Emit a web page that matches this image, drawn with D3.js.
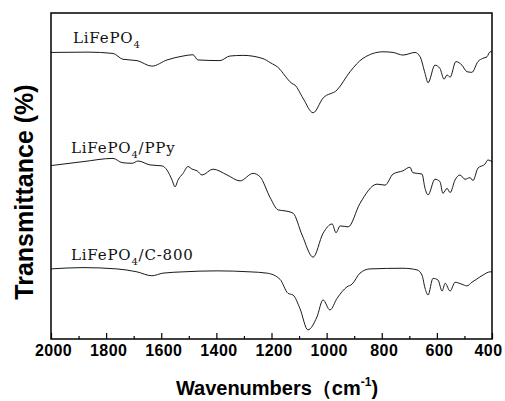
<!DOCTYPE html>
<html>
<head>
<meta charset="utf-8">
<script src="https://cdn.jsdelivr.net/npm/d3@7"></script>
<style>
  body { margin: 0; background: #fff; }
  .axis text { font-family: "Liberation Sans", Arial, sans-serif; font-weight: bold; font-size: 16px; letter-spacing: 0.4px; fill: #000; }
  .axis line { stroke: #000; stroke-width: 1.2; }
  .label { font-family: "DejaVu Serif", serif; font-size: 15px; letter-spacing: 0.8px; fill: #111; }
  .title { font-family: "Liberation Sans", Arial, sans-serif; font-weight: bold; fill: #000; }
</style>
</head>
<body>
<div class="chart"></div>
<script>
const margin = { top: 13, left: 51, right: 13, bottom: 62 };
const width = 505 - margin.left - margin.right;
const height = 401 - margin.top - margin.bottom;

// spectra (wavenumber cm-1, offset transmittance)
const lfpWave = [2000, 1866, 1775, 1739, 1688, 1634, 1579, 1521, 1485, 1467, 1387, 1351, 1303, 1231, 1205, 1169, 1158, 1126, 1115, 1086, 1049, 1013, 962, 915, 868, 795, 759, 723, 679, 661, 643, 632, 607, 589, 574, 563, 552, 531, 509, 491, 473, 451, 433, 418, 407, 400];
const lfpTrans = [87.9, 88.0, 87.6, 85.8, 85.4, 83.7, 85.6, 86.8, 87.2, 85.6, 85.4, 86.8, 87.0, 86.0, 84.8, 82.7, 81.5, 78.4, 77.9, 73.9, 69.4, 73.9, 76.4, 82.0, 86.1, 88.1, 87.9, 87.1, 87.9, 86.6, 81.5, 78.6, 84.0, 83.0, 79.7, 81.0, 80.3, 85.1, 84.0, 82.0, 81.8, 85.1, 86.1, 86.6, 88.1, 88.1];

const ppyWave = [2000, 1884, 1775, 1742, 1706, 1684, 1641, 1597, 1579, 1561, 1550, 1539, 1521, 1503, 1488, 1470, 1452, 1412, 1361, 1314, 1267, 1242, 1205, 1176, 1151, 1122, 1089, 1049, 1013, 980, 966, 951, 922, 879, 817, 788, 759, 723, 698, 687, 654, 643, 632, 607, 589, 578, 563, 552, 534, 516, 498, 480, 469, 451, 425, 415, 400];
const ppyTrans = [53.2, 54.4, 55.4, 54.1, 53.9, 54.6, 53.4, 53.1, 51.8, 48.8, 46.7, 48.8, 50.8, 52.9, 52.1, 51.6, 50.3, 52.1, 50.3, 48.5, 50.8, 49.8, 43.4, 39.6, 39.3, 38.6, 31.9, 25.1, 32.4, 35.3, 32.6, 34.7, 34.4, 41.6, 47.5, 47.2, 50.6, 51.6, 52.7, 51.0, 50.6, 46.2, 44.2, 49.0, 48.3, 44.7, 46.2, 44.9, 48.8, 50.3, 49.0, 49.5, 48.6, 52.4, 53.7, 54.9, 54.4];

const c800Wave = [2000, 1884, 1761, 1688, 1634, 1594, 1521, 1398, 1278, 1216, 1169, 1140, 1122, 1097, 1068, 1035, 1013, 988, 962, 926, 908, 879, 843, 723, 672, 654, 643, 632, 614, 596, 581, 570, 552, 534, 509, 491, 473, 455, 433, 407, 400];
const c800Trans = [21.5, 21.9, 21.5, 20.6, 19.4, 20.2, 20.6, 20.9, 20.6, 20.2, 18.3, 14.0, 13.5, 9.4, 2.8, 6.8, 12.0, 8.9, 12.5, 16.0, 16.8, 20.2, 21.5, 21.7, 21.2, 19.6, 15.6, 13.5, 18.6, 18.1, 14.7, 17.1, 14.7, 17.4, 16.8, 16.3, 17.4, 18.4, 19.6, 20.6, 20.6];

const majorTicks = [2000, 1800, 1600, 1400, 1200, 1000, 800, 600, 400];
const minorTicks = [1900, 1700, 1500, 1300, 1100, 900, 700, 500];

const series = [
  { name: "LiFePO", tail: "", wave: lfpWave, trans: lfpTrans, lx: 73, ly: 43 },
  { name: "LiFePO", tail: "/PPy", wave: ppyWave, trans: ppyTrans, lx: 71, ly: 153 },
  { name: "LiFePO", tail: "/C-800", wave: c800Wave, trans: c800Trans, lx: 71, ly: 260 }
];

const svg = d3
  .select(".chart")
  .append("svg")
  .attr("width", width + margin.left + margin.right)
  .attr("height", height + margin.top + margin.bottom)
  .append("g")
  .attr("transform", `translate(${margin.left}, ${margin.top})`);

const xScale = d3.scaleLinear().domain([2000, 400]).range([0, width]);
const yScale = d3.scaleLinear().domain([0, 100]).range([height, 0]);

const line = d3.line()
  .x(d => xScale(d[0]))
  .y(d => yScale(d[1]))
  .curve(d3.curveMonotoneX);

series.forEach(s => {
  svg.append("path")
    .datum(s.wave.map((w, i) => [w, s.trans[i]]))
    .attr("fill", "none")
    .attr("stroke", "#1a1a1a")
    .attr("stroke-width", 1)
    .attr("d", line);

  const t = svg.append("text")
    .attr("class", "label")
    .attr("x", s.lx - margin.left)
    .attr("y", s.ly - margin.top);
  t.append("tspan").text(s.name);
  t.append("tspan").attr("font-size", "10px").attr("dy", 5).text("4");
  if (s.tail) t.append("tspan").attr("dy", -5).text(s.tail);
});

// minor ticks
svg.append("g")
  .attr("class", "axis")
  .attr("transform", `translate(0,${height})`)
  .call(d3.axisBottom(xScale).tickValues(minorTicks).tickSize(-3).tickFormat(""))
  .call(g => g.select(".domain").remove());

// major ticks + labels
svg.append("g")
  .attr("class", "axis")
  .attr("transform", `translate(0,${height})`)
  .call(d3.axisBottom(xScale).tickValues(majorTicks).tickSize(-6).tickPadding(6).tickFormat(d3.format("d")))
  .call(g => g.select(".domain").remove())
  .selectAll("text")
  .attr("dx", d => d === 400 ? -4 : 2);

svg.append("rect")
  .attr("width", width)
  .attr("height", height)
  .attr("fill", "none")
  .attr("stroke", "#000")
  .attr("stroke-width", 1.5);

// axis titles
const xt = svg.append("text")
  .attr("class", "title")
  .attr("font-size", "20px")
  .attr("x", 277 - margin.left)
  .attr("y", 395 - margin.top)
  .attr("text-anchor", "middle");
xt.append("tspan").text("Wavenumbers（cm");
xt.append("tspan").attr("font-size", "12px").attr("dy", -9).text("-1");
xt.append("tspan").attr("dy", 9).text(")");

svg.append("text")
  .attr("class", "title")
  .attr("font-size", "25px")
  .attr("text-anchor", "middle")
  .attr("transform", `translate(${33 - margin.left},${192 - margin.top}) rotate(-90)`)
  .text("Transmittance (%)");
</script>
</body>
</html>
